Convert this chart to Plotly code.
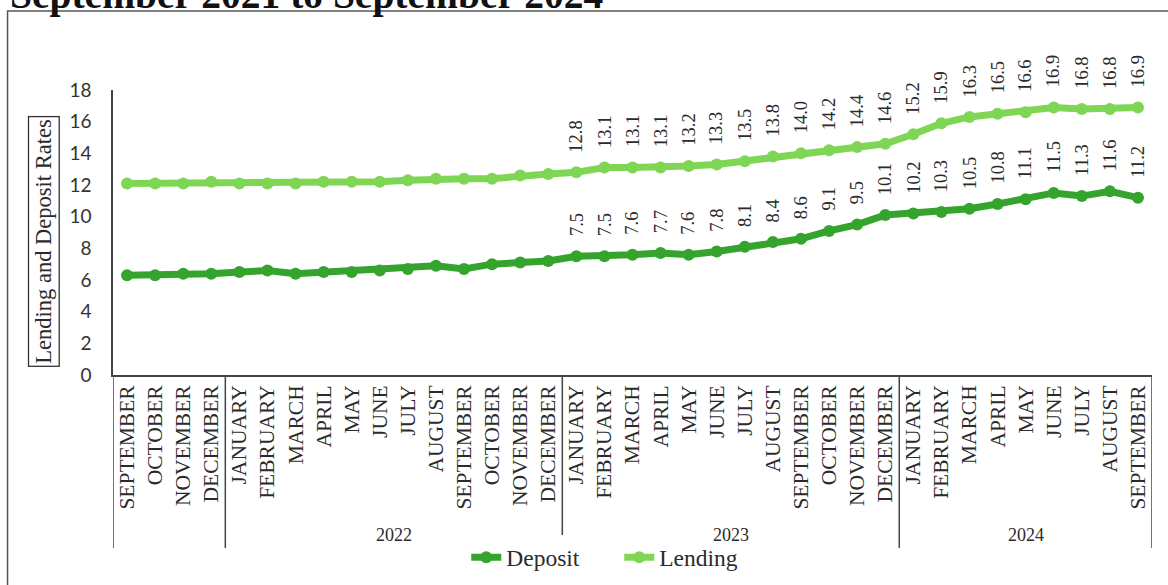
import plotly.graph_objects as go

# Monthly average rates, September 2021 - September 2024
months = [
    "SEPTEMBER", "OCTOBER", "NOVEMBER", "DECEMBER",
    "JANUARY", "FEBRUARY", "MARCH", "APRIL", "MAY", "JUNE", "JULY", "AUGUST",
    "SEPTEMBER", "OCTOBER", "NOVEMBER", "DECEMBER",
    "JANUARY", "FEBRUARY", "MARCH", "APRIL", "MAY", "JUNE", "JULY", "AUGUST",
    "SEPTEMBER", "OCTOBER", "NOVEMBER", "DECEMBER",
    "JANUARY", "FEBRUARY", "MARCH", "APRIL", "MAY", "JUNE", "JULY", "AUGUST",
    "SEPTEMBER",
]
years = ["2021"] * 4 + ["2022"] * 12 + ["2023"] * 12 + ["2024"] * 9
year_labels = {"2021": "", "2022": "2022", "2023": "2023", "2024": "2024"}

deposit = [
    6.3, 6.3, 6.4, 6.4, 6.5, 6.6, 6.4, 6.5, 6.5, 6.6, 6.7, 6.9, 6.7, 7.0, 7.1, 7.2,
    7.5, 7.5, 7.6, 7.7, 7.6, 7.8, 8.1, 8.4, 8.6, 9.1, 9.5, 10.1,
    10.2, 10.3, 10.5, 10.8, 11.1, 11.5, 11.3, 11.6, 11.2,
]
lending = [
    12.1, 12.1, 12.1, 12.2, 12.1, 12.1, 12.1, 12.2, 12.2, 12.2, 12.3, 12.4, 12.4, 12.4, 12.6, 12.7,
    12.8, 13.1, 13.1, 13.1, 13.2, 13.3, 13.5, 13.8, 14.0, 14.2, 14.4, 14.6,
    15.2, 15.9, 16.3, 16.5, 16.6, 16.9, 16.8, 16.8, 16.9,
]
first_labelled = 16  # values are printed from January 2023 onwards

DEP_COLOR = "#34a42d"
LEN_COLOR = "#7fd655"
SERIF = "Liberation Serif, Times New Roman, serif"
INK = "#2b2b2b"

x = list(range(len(months)))

fig = go.Figure()
fig.add_trace(go.Scatter(
    x=x, y=deposit, name="Deposit", mode="lines+markers",
    line=dict(color=DEP_COLOR, width=7), marker=dict(color=DEP_COLOR, size=12),
))
fig.add_trace(go.Scatter(
    x=x, y=lending, name="Lending", mode="lines+markers",
    line=dict(color=LEN_COLOR, width=7), marker=dict(color=LEN_COLOR, size=12),
))

annotations = []
# Rotated value labels above each point
for series in (deposit, lending):
    for i in range(first_labelled, len(series)):
        annotations.append(dict(
            x=i, y=series[i], xref="x", yref="y", text=f"{series[i]:.1f}",
            textangle=-90, showarrow=False, xanchor="center", yanchor="bottom", yshift=18,
            font=dict(family=SERIF, size=18.5, color=INK),
        ))

# Year group labels under the month labels
groups = []
for i, yr in enumerate(years):
    if not groups or groups[-1][0] != yr:
        groups.append([yr, i, i])
    else:
        groups[-1][2] = i
for yr, start, end in groups:
    if year_labels[yr]:
        annotations.append(dict(
            x=(start + end) / 2, y=-0.56, xref="x", yref="paper", text=year_labels[yr],
            showarrow=False, xanchor="center", yanchor="middle",
            font=dict(family=SERIF, size=18, color=INK),
        ))

# Boxed y-axis title
annotations.append(dict(
    x=-0.0665, y=0.47, xref="paper", yref="paper", text="Lending and Deposit Rates",
    textangle=-90, showarrow=False, xanchor="center", yanchor="middle",
    bordercolor="#333333", borderwidth=1.3, borderpad=2,
    font=dict(family=SERIF, size=22.5, color=INK),
))

# Heading, mostly above the visible page
annotations.append(dict(
    x=-0.101, y=1.316, xref="paper", yref="paper", xanchor="left", yanchor="middle",
    text="<b>September 2021 to September 2024</b>", showarrow=False, yshift=5,
    font=dict(family=SERIF, size=39.5, color="#111111"),
))

shapes = []
# Group dividers below the category axis
bounds = [groups[0][1] - 0.5] + [g[2] + 0.5 for g in groups]
for b in bounds:
    shapes.append(dict(
        type="line", xref="x", yref="paper", x0=b, x1=b, y0=0, y1=-0.607,
        line=dict(color="#444444", width=1.5),
    ))
# Outer frame
shapes.append(dict(
    type="rect", xref="paper", yref="paper", x0=-0.1015, x1=1.2, y0=-2, y1=1.277,
    line=dict(color="#555555", width=1.5),
))

fig.update_layout(
    width=1168, height=585,
    margin=dict(l=113, r=16, t=90, b=210, autoexpand=False),
    paper_bgcolor="white", plot_bgcolor="white",
    showlegend=True,
    legend=dict(
        orientation="h", x=0.340, xanchor="left", y=-0.64, yanchor="middle",
        font=dict(family=SERIF, size=23.5, color=INK),
        traceorder="normal", entrywidth=108, entrywidthmode="pixels",
    ),
    annotations=annotations,
    shapes=shapes,
)
fig.update_xaxes(
    range=[-0.5, len(months) - 0.5], tickmode="array", tickvals=x, ticktext=months,
    tickangle=-90, ticks="", ticklabelstandoff=0, automargin=False,
    tickfont=dict(family=SERIF, size=21.5, color=INK),
    showline=True, linecolor="#444444", linewidth=1.5, showgrid=False, zeroline=False,
)
fig.update_yaxes(
    range=[0, 18], dtick=2, ticks="", ticklabelstandoff=16, automargin=False,
    tickfont=dict(family="Lato, Liberation Sans, sans-serif", size=19, color="#333333"),
    showline=True, linecolor="#444444", linewidth=1.5, showgrid=False, zeroline=False,
)

fig.write_html("out.html")
